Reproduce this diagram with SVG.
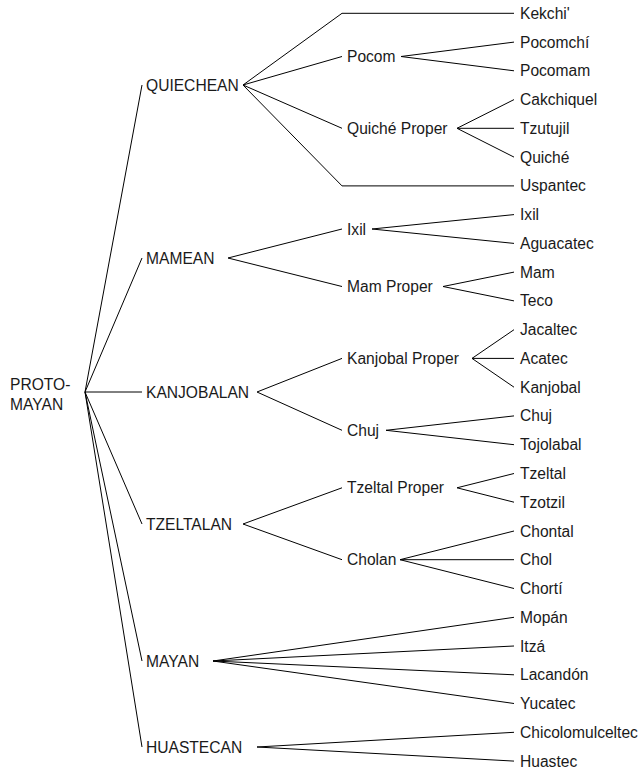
<svg xmlns="http://www.w3.org/2000/svg" width="640" height="771" viewBox="0 0 640 771">
<style>
text{font-family:"Liberation Sans",Arial,sans-serif;font-size:15.6px;fill:#1a1a1a}
.c line,.c polyline{stroke:#000;stroke-width:1;fill:none}
</style>
<rect width="640" height="771" fill="#fff"/>
<g class="c" id="connectors">
<line x1="85" y1="392" x2="142" y2="85"/>
<line x1="85" y1="392" x2="142" y2="258"/>
<line x1="85" y1="392" x2="142" y2="392"/>
<line x1="85" y1="392" x2="142" y2="524"/>
<line x1="85" y1="392" x2="142" y2="661"/>
<line x1="85" y1="392" x2="142" y2="747"/>
<polyline points="243,85 342,13.3 514,13.3"/>
<line x1="243" y1="85" x2="342" y2="56.5"/>
<line x1="243" y1="85" x2="342" y2="128.3"/>
<polyline points="243,85 342,185.9 514,185.9"/>
<line x1="401" y1="56.5" x2="514" y2="42.1"/>
<line x1="401" y1="56.5" x2="514" y2="70.8"/>
<line x1="457" y1="128.3" x2="514" y2="99.6"/>
<line x1="457" y1="128.3" x2="514" y2="128.3"/>
<line x1="457" y1="128.3" x2="514" y2="157.1"/>
<line x1="228" y1="258" x2="342" y2="229"/>
<line x1="228" y1="258" x2="342" y2="286.5"/>
<line x1="372" y1="229" x2="514" y2="214.6"/>
<line x1="372" y1="229" x2="514" y2="243.4"/>
<line x1="443" y1="286.5" x2="514" y2="272.1"/>
<line x1="443" y1="286.5" x2="514" y2="300.9"/>
<line x1="257" y1="392" x2="342" y2="358.4"/>
<line x1="257" y1="392" x2="342" y2="430.3"/>
<line x1="472" y1="358.4" x2="514" y2="329.7"/>
<line x1="472" y1="358.4" x2="514" y2="358.4"/>
<line x1="472" y1="358.4" x2="514" y2="387.2"/>
<line x1="386" y1="430.3" x2="514" y2="415.9"/>
<line x1="386" y1="430.3" x2="514" y2="444.7"/>
<line x1="243" y1="524" x2="342" y2="487.8"/>
<line x1="243" y1="524" x2="342" y2="559.7"/>
<line x1="457" y1="487.8" x2="514" y2="473.5"/>
<line x1="457" y1="487.8" x2="514" y2="502.2"/>
<line x1="400" y1="559.7" x2="514" y2="531"/>
<line x1="400" y1="559.7" x2="514" y2="559.7"/>
<line x1="400" y1="559.7" x2="514" y2="588.5"/>
<line x1="213" y1="661" x2="514" y2="617.3"/>
<line x1="213" y1="661" x2="514" y2="646"/>
<line x1="213" y1="661" x2="514" y2="674.8"/>
<line x1="213" y1="661" x2="514" y2="703.5"/>
<line x1="257" y1="747" x2="514" y2="732.3"/>
<line x1="257" y1="747" x2="514" y2="761.1"/>
</g>
<g id="proto-mayan"><text x="10" y="389.5">PROTO-</text><text x="10" y="410">MAYAN</text></g>
<g id="quiechean"><text x="146" y="90.5">QUIECHEAN</text></g>
<g id="mamean"><text x="146" y="263.5">MAMEAN</text></g>
<g id="kanjobalan"><text x="146" y="397.5">KANJOBALAN</text></g>
<g id="tzeltalan"><text x="146" y="529.5">TZELTALAN</text></g>
<g id="mayan"><text x="146" y="666.5">MAYAN</text></g>
<g id="huastecan"><text x="146" y="752.5">HUASTECAN</text></g>
<g id="pocom"><text x="347" y="62">Pocom</text></g>
<g id="quiche-proper"><text x="347" y="133.8">Quiché Proper</text></g>
<g id="ixil-group"><text x="347" y="234.5">Ixil</text></g>
<g id="mam-proper"><text x="347" y="292">Mam Proper</text></g>
<g id="kanjobal-proper"><text x="347" y="363.9">Kanjobal Proper</text></g>
<g id="chuj-group"><text x="347" y="435.8">Chuj</text></g>
<g id="tzeltal-proper"><text x="347" y="493.3">Tzeltal Proper</text></g>
<g id="cholan"><text x="347" y="565.2">Cholan</text></g>
<g id="kekchi"><text x="520" y="18.8">Kekchi'</text></g>
<g id="pocomchi"><text x="520" y="47.6">Pocomchí</text></g>
<g id="pocomam"><text x="520" y="76.3">Pocomam</text></g>
<g id="cakchiquel"><text x="520" y="105.1">Cakchiquel</text></g>
<g id="tzutujil"><text x="520" y="133.8">Tzutujil</text></g>
<g id="quiche"><text x="520" y="162.6">Quiché</text></g>
<g id="uspantec"><text x="520" y="191.4">Uspantec</text></g>
<g id="ixil"><text x="520" y="220.1">Ixil</text></g>
<g id="aguacatec"><text x="520" y="248.9">Aguacatec</text></g>
<g id="mam"><text x="520" y="277.6">Mam</text></g>
<g id="teco"><text x="520" y="306.4">Teco</text></g>
<g id="jacaltec"><text x="520" y="335.2">Jacaltec</text></g>
<g id="acatec"><text x="520" y="363.9">Acatec</text></g>
<g id="kanjobal"><text x="520" y="392.7">Kanjobal</text></g>
<g id="chuj"><text x="520" y="421.4">Chuj</text></g>
<g id="tojolabal"><text x="520" y="450.2">Tojolabal</text></g>
<g id="tzeltal"><text x="520" y="479">Tzeltal</text></g>
<g id="tzotzil"><text x="520" y="507.7">Tzotzil</text></g>
<g id="chontal"><text x="520" y="536.5">Chontal</text></g>
<g id="chol"><text x="520" y="565.2">Chol</text></g>
<g id="chorti"><text x="520" y="594">Chortí</text></g>
<g id="mopan"><text x="520" y="622.8">Mopán</text></g>
<g id="itza"><text x="520" y="651.5">Itzá</text></g>
<g id="lacandon"><text x="520" y="680.3">Lacandón</text></g>
<g id="yucatec"><text x="520" y="709">Yucatec</text></g>
<g id="chicolomulceltec"><text x="520" y="737.8">Chicolomulceltec</text></g>
<g id="huastec"><text x="520" y="766.6">Huastec</text></g>
</svg>
